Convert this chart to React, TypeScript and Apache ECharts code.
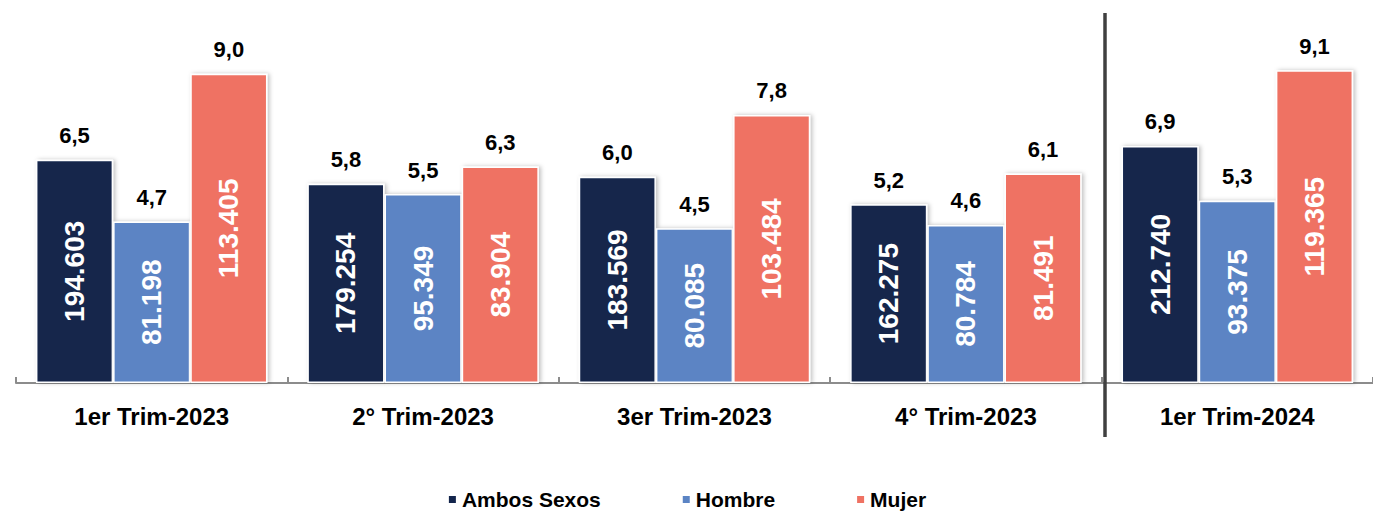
import React, { useEffect, useRef } from "react";
import * as echarts from "echarts";

const categories = ["1er Trim-2023", "2° Trim-2023", "3er Trim-2023", "4° Trim-2023", "1er Trim-2024"];
const seriesNames = ["Ambos Sexos", "Hombre", "Mujer"];
const rateAmbos = [6.5, 5.8, 6.0, 5.2, 6.9];
const rateHombre = [4.7, 5.5, 4.5, 4.6, 5.3];
const rateMujer = [9.0, 6.3, 7.8, 6.1, 9.1];
const countAmbos = ["194.603", "179.254", "183.569", "162.275", "212.740"];
const countHombre = ["81.198", "95.349", "80.085", "80.784", "93.375"];
const countMujer = ["113.405", "83.904", "103.484", "81.491", "119.365"];

const COLORS = ["#13254c", "#5b84c4", "#ef7263"];
const FONT = "'Liberation Sans', Arial, Helvetica, sans-serif";

export default function App() {
  const ref = useRef<HTMLDivElement>(null);
  useEffect(() => {
    if (!ref.current) return;
    const chart = echarts.init(ref.current, null, { renderer: "svg" });
    const rates = [rateAmbos, rateHombre, rateMujer];
    const counts = [countAmbos, countHombre, countMujer];
    const series: any[] = [];
    rates.forEach((r, i) => {
      series.push({
        name: seriesNames[i],
        type: "bar",
        stack: "s" + i,
        data: r,
        barCategoryGap: "14.7%",
        barGap: "0%",
        itemStyle: {
          color: COLORS[i],
          borderColor: "#ffffff",
          borderWidth: 1.5,
          shadowColor: "rgba(0,0,0,0.25)",
          shadowBlur: 4,
          shadowOffsetX: 2,
          shadowOffsetY: 0,
        },
        label: {
          show: true,
          position: "inside",
          rotate: 90,
          color: "#ffffff",
          fontSize: 28,
          fontWeight: "bold",
          fontFamily: FONT,
          formatter: (p: any) => counts[i][p.dataIndex],
        },
      });
      series.push({
        name: seriesNames[i] + "_top",
        type: "bar",
        stack: "s" + i,
        data: r.map(() => 0),
        itemStyle: { color: "transparent", borderWidth: 0 },
        label: {
          show: true,
          position: "top",
          distance: 13,
          color: "#000000",
          fontSize: 22,
          fontWeight: "bold",
          fontFamily: FONT,
          formatter: (p: any) => r[p.dataIndex].toFixed(1).replace(".", ","),
        },
        silent: true,
      });
    });
    chart.setOption({
      animation: false,
      backgroundColor: "#ffffff",
      grid: { left: 16, right: -7, top: 5, bottom: 129, containLabel: false },
      xAxis: {
        type: "category",
        data: categories,
        axisLine: { show: true, lineStyle: { color: "#8c8c8c", width: 2 } },
        axisTick: { show: true, inside: true, length: 6, lineStyle: { color: "#8c8c8c", width: 2 } },
        axisLabel: {
          color: "#000000",
          fontSize: 24,
          fontWeight: "bold",
          fontFamily: FONT,
          margin: 21,
        },
      },
      yAxis: { type: "value", min: 0, max: 11, show: false, splitLine: { show: false } },
      legend: {
        data: seriesNames,
        top: 484,
        left: "center",
        icon: "rect",
        itemWidth: 9,
        itemHeight: 9,
        itemGap: 80,
        textStyle: { color: "#000000", fontSize: 21, fontWeight: "bold", fontFamily: FONT },
      },
      graphic: [
        {
          type: "line",
          shape: { x1: 1105, y1: 13, x2: 1105, y2: 437 },
          style: { stroke: "#404040", lineWidth: 3.5 },
          z: 100,
        },
      ],
      series,
    });
    return () => chart.dispose();
  }, []);
  return (
    <div
      ref={ref}
      style={{ position: "absolute", left: 0, top: 0, width: 1373, height: 512 }}
    />
  );
}
